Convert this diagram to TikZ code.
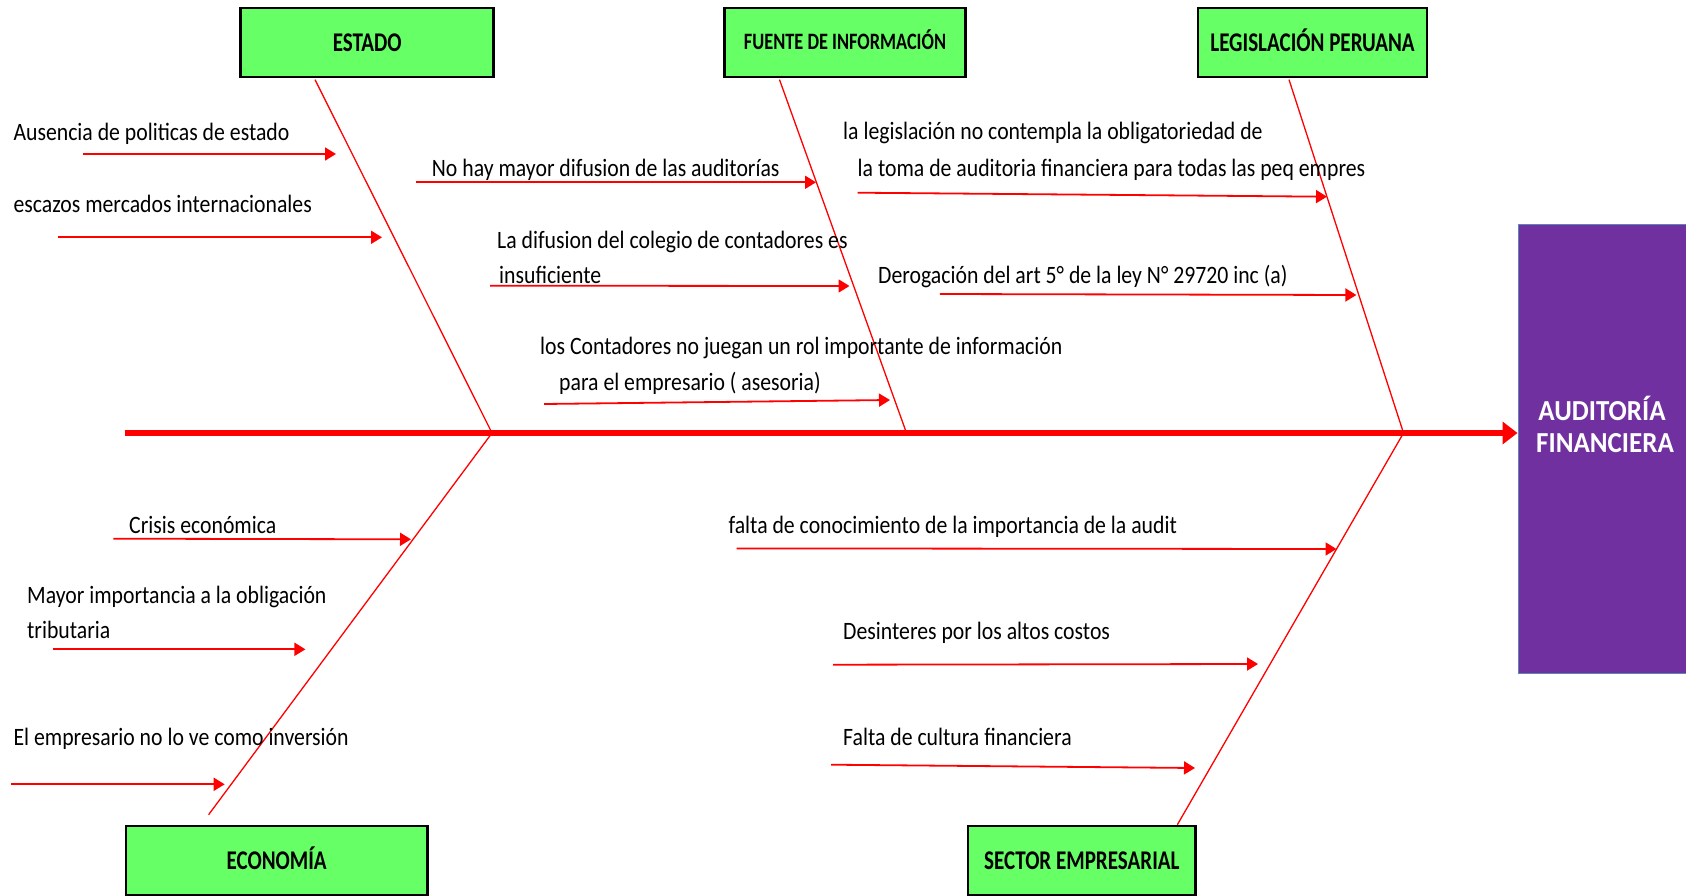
\documentclass[tikz,border=0pt]{standalone}
\usepackage{fontspec}
\setmainfont{Carlito}
\newfontfamily\lblfont[FakeStretch=0.87]{Carlito}
\newfontfamily\hdrfont[FakeStretch=0.78]{Carlito}
\newfontfamily\effont[FakeStretch=0.93]{Carlito}
\usetikzlibrary{arrows.meta}
\definecolor{boxgreen}{HTML}{66FF66}
\definecolor{effpurple}{HTML}{7030A0}
\definecolor{effedge}{HTML}{5B86B5}
\definecolor{bonered}{HTML}{FF0000}
\begin{document}
\begin{tikzpicture}[x=1pt,y=-1pt,
  catbox/.style={draw=black, line width=2.7pt, fill=boxgreen, inner sep=0pt,
    minimum height=68.9pt, text height=17.1pt, text depth=0pt,
    font=\hdrfont\bfseries\fontsize{27}{30}\selectfont},
  cause/.style={anchor=base west, inner sep=0pt, font=\lblfont\fontsize{25}{30}\selectfont},
  efftext/.style={anchor=base, inner sep=0pt, text=white, font=\effont\bfseries\fontsize{29}{32}\selectfont},
  bone/.style={draw=bonered, line width=1.3pt},
  causearrow/.style={draw=bonered, line width=1.8pt, -{Triangle[length=11pt,width=13pt]}},
  spinearrow/.style={draw=bonered, line width=6.5pt, -{Triangle[length=15pt,width=22pt]}}
]
\useasboundingbox (0,0) rectangle (1686,896);

% category boxes
\node[catbox, minimum width=253pt] (estado) at (367.2,42.5) {ESTADO};
\node[catbox, minimum width=240.7pt, text height=14.9pt, font=\hdrfont\bfseries\fontsize{23.5}{28}\selectfont] (fuente) at (845,42.5) {FUENTE DE INFORMACIÓN};
\node[catbox, minimum width=228.9pt] (legis) at (1312.5,42.5) {LEGISLACIÓN PERUANA};
\node[catbox, minimum width=301.1pt] (econ) at (276.6,860.5) {ECONOMÍA};
\node[catbox, minimum width=227.6pt] (sector) at (1081.85,860.5) {SECTOR EMPRESARIAL};

% effect box
\node[fill=effpurple, draw=effedge, line width=1pt, inner sep=0pt,
      minimum width=169pt, minimum height=448.7pt] (effect) at (1602.5,448.7) {};
\node[efftext] (eff1) at (1602,420) {AUDITORÍA};
\node[efftext] (eff2) at (1605,452.3) {FINANCIERA};

% spine
\coordinate (tail) at (124.7,433);
\draw[spinearrow] (tail) -- (tail -| effect.west);

% junctions on the spine
\coordinate (jE) at (492,433);
\coordinate (jF) at (906.5,433);
\coordinate (jL) at (1403.5,433);

% bones
\draw[bone] ([xshift=-52.2pt,yshift=-1.35pt]estado.south) -- (jE);
\draw[bone] (jE) -- ([xshift=-68pt,yshift=10pt]econ.north);
\draw[bone] ([xshift=-65.5pt,yshift=-1.35pt]fuente.south) -- (jF);
\draw[bone] ([xshift=-23.5pt,yshift=-1.35pt]legis.south) -- (jL);
\draw[bone] (jL) -- ([xshift=95.5pt]sector.north);

% cause labels
\node[cause] (c1) at (13.3,141) {Ausencia de politicas de estado};
\node[cause] (c2) at (13.3,212) {escazos mercados internacionales};
\node[cause] (c3) at (431.7,177) {No hay mayor difusion de las auditorías};
\node[cause] (c4a) at (497,248) {La difusion del colegio de contadores es};
\node[cause] (c4b) at (499,283) {insuficiente};
\node[cause] (c5a) at (540,354) {los Contadores no juegan un rol importante de información};
\node[cause] (c5b) at (559,390) {para el empresario ( asesoria)};
\node[cause] (c6a) at (843,140) {la legislación no contempla la obligatoriedad de};
\node[cause] (c6b) at (857.5,177) {la toma de auditoria financiera para todas las peq empres};
\node[cause] (c7) at (878,283) {Derogación del art 5° de la ley N° 29720 inc (a)};
\node[cause] (c8) at (129,533) {Crisis económica};
\node[cause] (c9a) at (27,603) {Mayor importancia a la obligación};
\node[cause] (c9b) at (27,638) {tributaria};
\node[cause] (c10) at (13.4,745.7) {El empresario no lo ve como inversión};
\node[cause] (c11) at (728.4,533) {falta de conocimiento de la importancia de la audit};
\node[cause] (c12) at (843,639.7) {Desinteres por los altos costos};
\node[cause] (c13) at (843,745.7) {Falta de cultura financiera};

% cause arrows
\coordinate (a1s) at (83.3,154);   \coordinate (a1e) at (336,154);
\coordinate (a2s) at (57.5,237.3); \coordinate (a2e) at (382,237.3);
\coordinate (a3s) at (415.6,182.3);\coordinate (a3e) at (816,182.3);
\coordinate (a4s) at (490,285.7);  \coordinate (a4e) at (849.5,286);
\coordinate (a5s) at (544,404);    \coordinate (a5e) at (890,400);
\coordinate (a6s) at (857.5,192.7);\coordinate (a6e) at (1327,196.7);
\coordinate (a7s) at (939.8,294);  \coordinate (a7e) at (1356.4,295);
\coordinate (a8s) at (113.4,538.7);\coordinate (a8e) at (411,539.3);
\coordinate (a9s) at (53.2,649.3); \coordinate (a9e) at (305.4,649.3);
\coordinate (a10s) at (10.75,784.3);\coordinate (a10e) at (224.7,784.3);
\coordinate (a11s) at (736.6,548.4);\coordinate (a11e) at (1336.5,549);
\coordinate (a12s) at (833,664.7); \coordinate (a12e) at (1258,664);
\coordinate (a13s) at (831,764.7); \coordinate (a13e) at (1195,768);
\foreach \i in {1,...,13}{\draw[causearrow] (a\i s) -- (a\i e);}
\end{tikzpicture}
\end{document}
